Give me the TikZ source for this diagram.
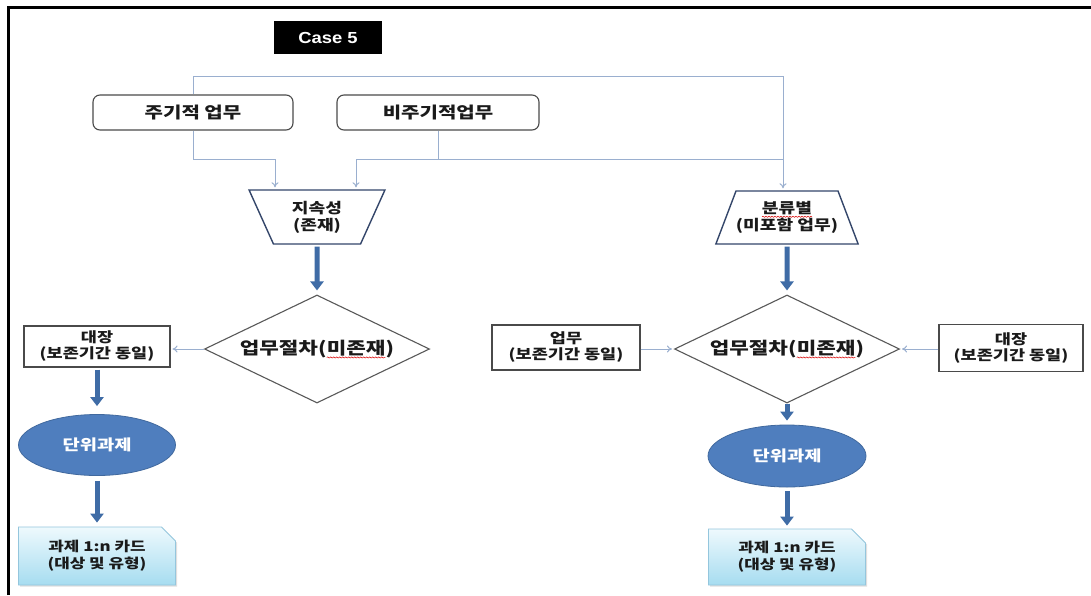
\documentclass[tikz,border=0pt]{standalone}
\usepackage{fontspec}
\newfontfamily\kr[FakeStretch=1.25]{Noto Sans CJK KR}
\newfontfamily\arl[FakeStretch=1.15]{Liberation Sans}
\usetikzlibrary{shapes.geometric,shapes.misc,arrows.meta,decorations.pathmorphing,shadows}
\definecolor{cConn}{HTML}{9AAFCF}
\definecolor{cThick}{HTML}{3F6CA6}
\definecolor{cBoxD}{HTML}{4A4A4A}
\definecolor{cTrap}{HTML}{34466A}
\definecolor{cDia}{HTML}{595959}
\definecolor{cEll}{HTML}{4F7EBE}
\definecolor{cEllD}{HTML}{41699E}
\definecolor{cCardT}{HTML}{EEF9FD}
\definecolor{cCardB}{HTML}{A6DCF0}
\definecolor{cCardD}{HTML}{94C6DD}
\definecolor{cTxt}{HTML}{1A1A1A}
\newcommand\rwave[1]{\tikz[baseline=(rw.base)]{\node[shape=rectangle,draw=none,fill=none,minimum width=0pt,
  minimum height=0pt,inner sep=0pt,outer sep=0pt] (rw) {#1};
  \draw[red!85!black,line width=0.5pt,decorate,decoration={snake,amplitude=0.6pt,segment length=3pt}]
   ([yshift=-1.8pt]rw.south west) -- ([yshift=-1.8pt]rw.south east);}}
\begin{document}
\begin{tikzpicture}[x=1pt,y=-1pt,
  conn/.style={draw=cConn, line width=1pt},
  connarr/.style={conn, -{To[length=5pt,width=7pt]}, shorten >=2pt},
  thickarr/.style={draw=cThick, line width=5pt, -{Triangle[length=9pt,width=13pt]}, shorten <=2pt, shorten >=4pt},
  topbox/.style={draw=cBoxD, line width=1.1pt, rounded corners=7pt, minimum height=35pt, inner sep=0pt,
     font=\kr\bfseries\fontsize{16}{19}\selectfont, text=cTxt},
  sidebox/.style={draw=cBoxD, line width=1.1pt, align=center, inner sep=0pt,
     font=\kr\bfseries\fontsize{14}{16}\selectfont, text=cTxt},
  trap/.style={trapezium, draw=cTrap, line width=1.4pt, trapezium stretches=true, align=center, inner sep=0pt,
     font=\kr\bfseries\fontsize{14.5}{17}\selectfont, text=cTxt},
  dia/.style={diamond, aspect=2.08, draw=cDia, line width=1.1pt, minimum width=225pt, minimum height=108pt,
     inner sep=0pt, font=\kr\bfseries\fontsize{17}{20}\selectfont, text=cTxt},
  oval/.style={ellipse, fill=cEll, draw=cEllD, line width=0.8pt, inner sep=0pt, text=white,
     font=\kr\bfseries\fontsize{15}{18}\selectfont},
  card/.style={chamfered rectangle, chamfered rectangle corners=north east, chamfered rectangle xsep=7pt,
     chamfered rectangle ysep=7pt, draw=cCardD, line width=0.8pt, top color=cCardT, bottom color=cCardB,
     align=center, inner sep=0pt, text=cTxt, font=\kr\bfseries\fontsize{13.5}{17}\selectfont,
     drop shadow={shadow xshift=1.5pt, shadow yshift=-1.5pt, opacity=0.25}},
  casebox/.style={fill=black, text=white, inner sep=0pt, font=\arl\bfseries\fontsize{16}{19}\selectfont}
]
\fill[white] (0,0) rectangle (1091,595);
\useasboundingbox (0,0) rectangle (1091,595);
\draw[line width=3pt] (8.5,595) -- (8.5,7.5) -- (1091,7.5);

\node[casebox, minimum width=108pt, minimum height=33pt] (case) at (328,37.5) {Case 5};

\node[topbox, minimum width=200pt] (b1) at (193,112.5) {주기적 업무};
\node[topbox, minimum width=202pt] (b2) at (438,112.5) {비주기적업무};

\node[trap, trapezium left angle=113.5, trapezium right angle=113.5, minimum width=136pt, minimum height=54pt]
  (t1) at (317,217) {지속성\\(존재)};
\node[trap, trapezium left angle=58, trapezium right angle=58, minimum width=140pt, minimum height=53pt]
  (t2) at (787,217.5) {\rwave{분류별}\\(미포함 업무)};

\node[dia] (d1) at (317,349) {업무절차(\rwave{미존재})};
\node[dia] (d2) at (787,349) {업무절차(\rwave{미존재})};

\node[sidebox, minimum width=146pt, minimum height=41pt] (a1) at (97,346.5) {대장\\(보존기간 동일)};
\node[sidebox, minimum width=148pt, minimum height=45pt] (a2) at (566,347.5) {업무\\(보존기간 동일)};
\node[sidebox, minimum width=144pt, minimum height=47pt] (a3) at (1011,348) {대장\\(보존기간 동일)};

\node[oval, minimum width=157pt, minimum height=61pt] (e1) at (97,445) {단위과제};
\node[oval, minimum width=158pt, minimum height=62pt] (e2) at (787,456) {단위과제};

\node[card, minimum width=157pt, minimum height=58pt] (c1) at (97,556) {과제 1:n 카드\\(대상 및 유형)};
\node[card, minimum width=157pt, minimum height=56pt] (c2) at (787,557) {과제 1:n 카드\\(대상 및 유형)};

% thin connectors at the top
\coordinate (t1in1) at ([xshift=-42pt]t1.north);
\coordinate (t1in2) at ([xshift=39pt]t1.north);
\coordinate (t2in) at ([xshift=-4pt]t2.north);
\draw[connarr] (b1.north) -- ++(0,-18) -| (t2in);
\draw[connarr] (b1.south) -- ++(0,29) -| (t1in1);
\draw[conn] (b2.south) -- ++(0,29) coordinate (j2);
\draw[connarr] (j2) -| (t1in2);
\draw[conn] (j2) -- (j2 -| t2in);

% side arrows
\draw[connarr] (d1.west) -- (d1.west -| a1.east);
\draw[connarr] (d2.west -| a2.east) -- (d2.west);
\draw[connarr] (d2.east -| a3.west) -- (d2.east);

% thick arrows
\draw[thickarr] (t1.south) -- (d1.north);
\draw[thickarr, shorten >=8pt] (a1.south) -- (e1.north);
\draw[thickarr, shorten <=5pt] (e1.south) -- (c1.north);
\draw[thickarr] (t2.south) -- (d2.north);
\draw[thickarr, shorten <=0pt] (d2.south) -- (e2.north);
\draw[thickarr, shorten <=4pt, shorten >=3pt] (e2.south) -- (c2.north);
\end{tikzpicture}
\end{document}
